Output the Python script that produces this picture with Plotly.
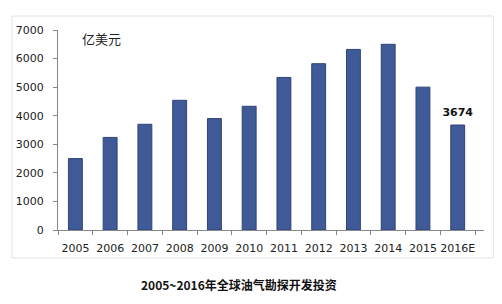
import plotly.graph_objects as go

years = ["2005", "2006", "2007", "2008", "2009", "2010", "2011", "2012", "2013", "2014", "2015", "2016E"]
invest = [2500, 3240, 3700, 4540, 3900, 4330, 5340, 5820, 6320, 6500, 5000, 3674]
y_ticks = [0, 1000, 2000, 3000, 4000, 5000, 6000, 7000]

fig = go.Figure()
fig.add_trace(go.Bar(
    x=years, y=invest,
    marker=dict(color="#3F5A97", line=dict(color="#2E4478", width=1)),
))
fig.add_trace(go.Scatter(
    x=[years[-1]], y=[invest[-1]], mode="markers+text",
    marker=dict(size=8, opacity=0),
    text=[f"<b>{invest[-1]}</b>"], textposition="top center",
    textfont=dict(family="DejaVu Sans", size=11, color="#111111"),
    cliponaxis=False, hoverinfo="skip",
))

fig.update_layout(
    width=494, height=296,
    margin=dict(l=50, r=18, t=22, b=74, autoexpand=False),
    paper_bgcolor="white", plot_bgcolor="white",
    bargap=0.6,
    showlegend=False,
    font=dict(family="DejaVu Sans", size=11, color="#222222"),
    xaxis=dict(
        showline=True, linecolor="#888888", linewidth=1,
        ticks="outside", tickson="boundaries", ticklen=4, tickcolor="#888888",
        showgrid=False, tickfont=dict(size=11, color="#222222"), tickangle=0,
        automargin=False, ticklabelstandoff=8,
    ),
    yaxis=dict(
        range=[0, 7000], tickvals=y_ticks,
        showline=True, linecolor="#888888", linewidth=1,
        ticks="outside", ticklen=4, tickcolor="#888888",
        showgrid=False, zeroline=False, tickfont=dict(size=11, color="#222222"),
        ticklabelstandoff=7, automargin=False,
    ),
    shapes=[dict(type="rect", xref="paper", yref="paper",
                 x0=-0.108, x1=1.022, y0=-0.14, y1=1.07,
                 line=dict(color="#E2E2E2", width=1), layer="below")],
    annotations=[
        dict(text="亿美元", xref="paper", yref="paper", x=0.052, y=0.96,
             xanchor="left", yanchor="middle", showarrow=False,
             font=dict(family="Noto Sans CJK SC", size=13, color="#222222")),
        dict(text="<b>2005~2016年全球油气勘探开发投资</b>", xref="paper", yref="paper",
             x=0.425, y=-0.27, xanchor="center", yanchor="middle", showarrow=False,
             font=dict(family="Noto Sans CJK SC", size=12, color="#111111")),
    ],
)

fig.write_html("out.html")
